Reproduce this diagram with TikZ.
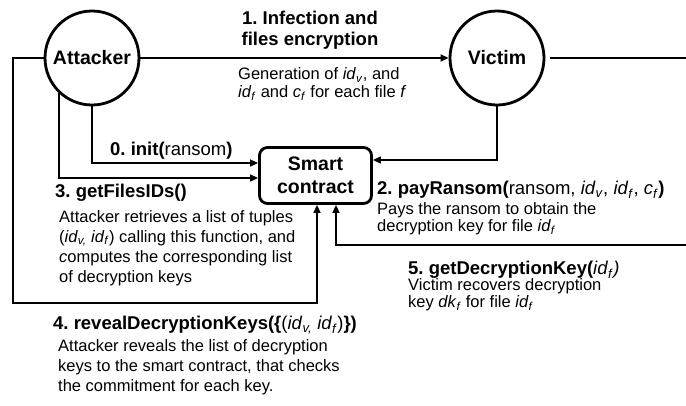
\documentclass[tikz,border=0pt]{standalone}
\usepackage{fontspec}
\setmainfont{Liberation Sans}
\usetikzlibrary{arrows.meta}

\newcommand{\idx}[2]{\textit{#1}\textsubscript{\textit{#2}}}

\begin{document}
\frenchspacing
\begin{tikzpicture}[x=1pt,y=-1pt,
  actor/.style={circle,draw,line width=2.8pt,minimum size=94pt,inner sep=0pt,
    font=\fontsize{19.5}{23}\selectfont\bfseries},
  contract/.style={draw,line width=2.8pt,rounded corners=8pt,minimum width=112pt,
    minimum height=56pt,align=center,inner sep=0pt,
    font=\fontsize{19.5}{23}\selectfont\bfseries},
  flow/.style={line width=1.5pt,-{Triangle[length=8pt,width=7pt]}},
  link/.style={line width=1.5pt},
  steptitle/.style={inner sep=0pt,anchor=west,align=left,
    font=\fontsize{18.5}{21}\selectfont\bfseries},
  note/.style={inner sep=0pt,anchor=west,align=left,
    font=\fontsize{16.5}{20}\selectfont},
]
\useasboundingbox (0,0) rectangle (686,405);

% participants
\node[actor] (att) at (92,58) {Attacker};
\node[actor] (vic) at (497,58) {Victim};
\node[contract] (sc) at (315.5,175.5) {Smart\\contract};

% free ends leaving at the right border
\coordinate (edgeTop) at (686,58);
\coordinate (edgeBot) at (686,245);
\coordinate (loopL) at (13,303);

% connectors
\draw[flow] (att) -- (vic);
\draw[flow] (att.south) |- ([yshift=12.5pt]sc.west);
\draw[flow] (att.-133) |- ([yshift=-2.5pt]sc.west);
\draw[flow] (att.west) -| (loopL) -| ([xshift=1.5pt]sc.south);
\draw[flow] (vic.south) |- ([yshift=15.5pt]sc.east);
\draw[link,shorten <=5pt] (vic.east) -- (edgeTop);
\draw[flow] (edgeBot) -| ([xshift=20.5pt]sc.south);

% step labels
\node[steptitle,anchor=center,align=center] (t1) at (310,30)
  {1. Infection and\\files encryption};
\node[note,font=\fontsize{16.5}{18}\selectfont] (n1) at (238,84)
  {Generation of \idx{id}{v}, and\\
   \idx{id}{f} and \idx{c}{f} for each file \textit{f}};

\node[steptitle] (t0) at (110,151) {0. init(\mdseries ransom\bfseries)};

\node[steptitle] (t3) at (55,193) {3. getFilesIDs()};
\node[note] (n3) at (59,248)
  {Attacker retrieves a list of tuples\\
   (\idx{id}{v,} \idx{id}{f}) calling this function, and\\
   \textit{c}omputes the corresponding list\\
   of decryption keys};

\node[steptitle] (t2) at (377,190)
  {2. payRansom(\mdseries ransom, \idx{id}{v}, \idx{id}{f}, \idx{c}{f}\bfseries)};
\node[note,font=\fontsize{16.5}{17.5}\selectfont] (n2) at (377,218.5)
  {Pays the ransom to obtain the\\
   decryption key for file \idx{id}{f}};

\node[steptitle] (t5) at (408,270)
  {5. getDecryptionKey(\mdseries\idx{id}{f}\textit{)}};
\node[note,font=\fontsize{16.5}{17}\selectfont] (n5) at (408,295)
  {Victim recovers decryption\\
   key \idx{dk}{f} for file \idx{id}{f}};

\node[steptitle] (t4) at (53,325)
  {4. revealDecryptionKeys(\{\mdseries(\idx{id}{v,} \idx{id}{f})\bfseries\})};
\node[note] (n4) at (58,367)
  {Attacker reveals the list of decryption\\
   keys to the smart contract, that checks\\
   the commitment for each key.};
\end{tikzpicture}
\end{document}
